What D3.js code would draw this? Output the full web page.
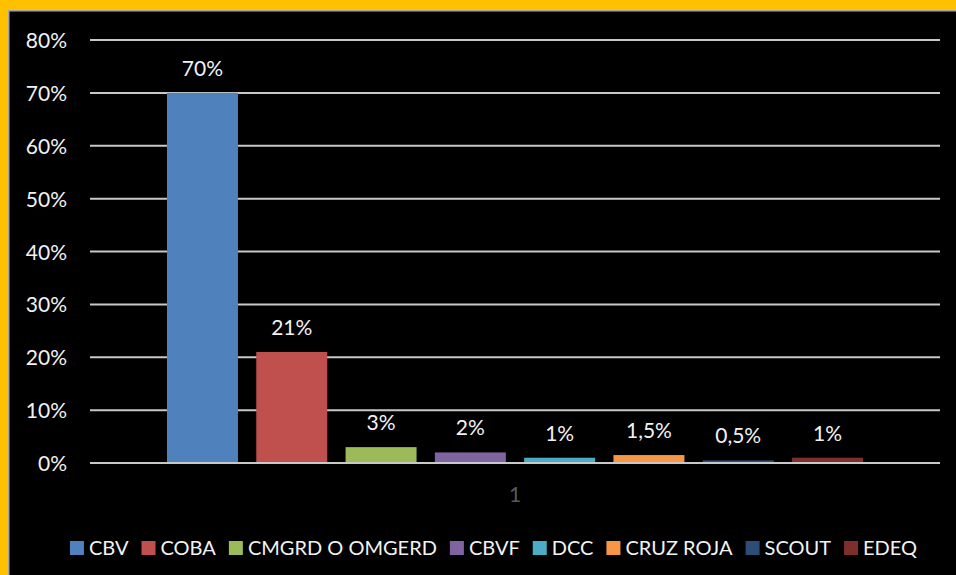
<!DOCTYPE html>
<html>
<head>
<meta charset="utf-8">
<script src="https://cdn.jsdelivr.net/npm/d3@7"></script>
<style>
  html, body { margin: 0; padding: 0; background: #FFC000; }
  svg { display: block; }
</style>
</head>
<body>
<svg id="chart" width="956" height="575"></svg>
<script>
const categories = ["1"];
const seriesNames = ["CBV", "COBA", "CMGRD O OMGERD", "CBVF", "DCC", "CRUZ ROJA", "SCOUT", "EDEQ"];
const seriesValues = [70, 21, 3, 2, 1, 1.5, 0.5, 1];
const valueLabels = ["70%", "21%", "3%", "2%", "1%", "1,5%", "0,5%", "1%"];
const seriesColors = ["#4F81BD", "#C0504D", "#9BBB59", "#8064A2", "#4BACC6", "#F79646", "#2C4D75", "#7D2F2D"];
const yTicks = [0, 10, 20, 30, 40, 50, 60, 70, 80];

const W = 956, H = 575;
const FONT = "Lato, 'Open Sans', sans-serif";
const svg = d3.select("#chart");

// frame
svg.append("rect").attr("x", 0).attr("y", 0).attr("width", W).attr("height", H).attr("fill", "#FFC000");
svg.append("rect").attr("x", 8.75).attr("y", 10.75).attr("width", W).attr("height", H)
  .attr("fill", "#000").attr("stroke", "#A6A6A6").attr("stroke-width", 1.5);

const plot = { left: 90, right: 940, top: 40, bottom: 463 };

const y = d3.scaleLinear().domain([0, 80]).range([plot.bottom, plot.top]);
const x0 = d3.scaleBand().domain(categories).range([plot.left, plot.right]).paddingInner(0).paddingOuter(0.1106);
const x1 = d3.scaleBand().domain(seriesNames).range([0, x0.bandwidth()]).paddingInner(0.205).paddingOuter(0);

// gridlines
svg.append("g").selectAll("line").data(yTicks).join("line")
  .attr("x1", plot.left).attr("x2", plot.right)
  .attr("y1", d => y(d)).attr("y2", d => y(d))
  .attr("stroke", "#C8C8C8").attr("stroke-width", 2);

// y axis labels
const yAxis = d3.axisLeft(y).tickValues(yTicks).tickFormat(d => d + "%").tickSize(0).tickPadding(0);
const gy = svg.append("g").attr("transform", `translate(67,0)`).call(yAxis);
gy.select(".domain").remove();
gy.selectAll("text").attr("fill", "#F2F2F2").style("font-family", FONT).style("font-size", "21px").attr("dy", "0.36em");

// bars
const data = seriesNames.map((s, i) => ({ s, v: seriesValues[i], label: valueLabels[i], c: seriesColors[i] }));
const g = svg.append("g").attr("transform", `translate(${x0(categories[0])},0)`);
g.selectAll("rect").data(data).join("rect")
  .attr("x", d => x1(d.s)).attr("width", x1.bandwidth())
  .attr("y", d => y(d.v)).attr("height", d => y(0) - y(d.v))
  .attr("fill", d => d.c);

g.selectAll("text").data(data).join("text")
  .attr("x", d => x1(d.s) + x1.bandwidth() / 2)
  .attr("y", d => y(d.v) - 17)
  .attr("text-anchor", "middle")
  .attr("fill", "#F2F2F2").style("font-family", FONT).style("font-size", "21px")
  .text(d => d.label);

// redraw baseline on top of bars
svg.append("line").attr("x1", plot.left).attr("x2", plot.right)
  .attr("y1", y(0)).attr("y2", y(0)).attr("stroke", "#C8C8C8").attr("stroke-width", 2);

// x axis category label
const xAxis = d3.axisBottom(x0).tickSize(0).tickPadding(0);
const gx = svg.append("g").attr("transform", `translate(0,${y(0) + 24})`).call(xAxis);
gx.select(".domain").remove();
gx.selectAll("text").attr("fill", "#595959").style("font-family", FONT).style("font-size", "21px").attr("dy", "0.71em");

// legend
const legend = svg.append("g");
const legendFont = 20;
const items = legend.selectAll("g").data(data).join("g");
items.append("rect").attr("width", 14).attr("height", 14).attr("y", -7).attr("fill", d => d.c);
items.append("text").attr("x", 19).attr("dy", "0.35em")
  .attr("fill", "#F2F2F2").style("font-family", FONT).style("font-size", legendFont + "px")
  .text(d => d.s);
let xpos = 0;
const positions = [];
items.each(function(d) {
  const tw = d3.select(this).select("text").node().getComputedTextLength();
  positions.push(xpos);
  xpos += 14 + 5 + tw + 13;
});
const totalW = xpos - 13;
const startX = 493.5 - totalW / 2;
items.attr("transform", (d, i) => `translate(${startX + positions[i]},548)`);
</script>
</body>
</html>
